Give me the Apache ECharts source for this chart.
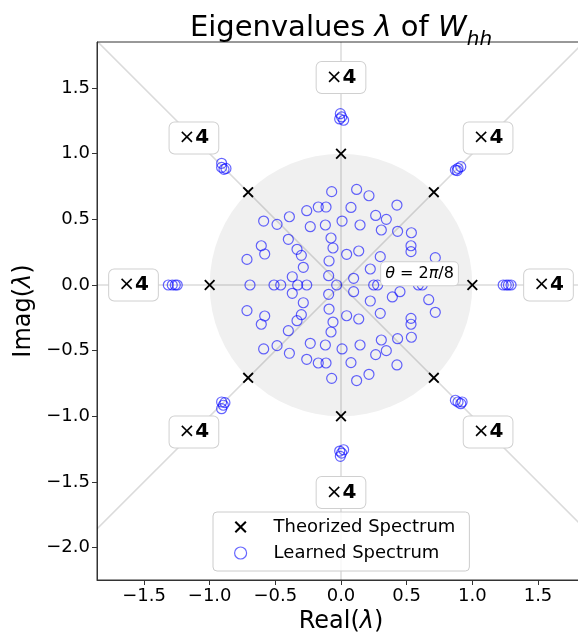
<!DOCTYPE html>
<html lang="en">
  <head>
    <meta charset="UTF-8" />
    <title>eigenvalues echarts</title>
    <script src="https://cdn.jsdelivr.net/npm/echarts@6/dist/echarts.min.js"></script>
    <style>
      html, body { margin: 0; padding: 0; background: #fff; }
      #main { width: 578px; height: 636px; }
    </style>
  </head>
  <body>
    <div id="main"></div>
    <script>
      // 理论谱：单位圆上的 8 个点
      const theorX = [1.0, 0.707, 0.0, -0.707, -1.0, -0.707, 0.0, 0.707];
      const theorY = [0.0, 0.707, 1.0, 0.707, 0.0, -0.707, -1.0, -0.707];

      // 学习到的谱 - 外圈 8 簇，每簇 4 个
      const outerX = [
        -0.005, -0.01, 0.02, 0.005,
        -0.005, -0.01, 0.02, 0.005,
        -1.315, -1.285, -1.262, -1.247,
        1.235, 1.258, 1.275, 1.295,
        -0.909, -0.909, -0.891, -0.876,
        0.871, 0.891, 0.912, 0.885,
        -0.909, -0.896, -0.909, -0.884,
        0.871, 0.891, 0.912, 0.922
      ];
      const outerY = [
        1.305, 1.265, 1.255, 1.28,
        -1.305, -1.265, -1.255, -1.28,
        0.0, 0.0, 0.0, 0.0,
        0.0, 0.0, 0.0, 0.0,
        0.927, 0.896, 0.881, 0.888,
        0.876, 0.889, 0.901, 0.872,
        -0.891, -0.916, -0.942, -0.896,
        -0.878, -0.891, -0.904, -0.891
      ];

      // 学习到的谱 - 圆内（上半平面）
      const upperX = [
        -0.071, 0.119, 0.213, 0.426, -0.173, -0.114, -0.261, 0.076, 0.264, 0.345,
        -0.393, -0.589, -0.487, -0.234, -0.119, 0.008, 0.145, 0.307, 0.431, 0.536,
        -0.401, -0.076, -0.607, -0.581, -0.335, -0.302, -0.061, 0.043, 0.135, 0.299,
        0.533, 0.533, 0.718, -0.716, -0.091, -0.287, 0.223, -0.371, -0.094, 0.096,
        0.391, 0.449, 0.668
      ];
      const upperY = [
        0.711, 0.728, 0.680, 0.609, 0.594, 0.594, 0.566, 0.591, 0.530, 0.500,
        0.520, 0.487, 0.462, 0.444, 0.457, 0.487, 0.457, 0.419, 0.409, 0.398,
        0.348, 0.358, 0.299, 0.236, 0.272, 0.226, 0.282, 0.234, 0.259, 0.216,
        0.299, 0.254, 0.208, 0.195, 0.183, 0.135, 0.122, 0.063, 0.071, 0.051,
        0.091, 0.051, 0.112
      ];
      // 下半平面（共轭）
      const lowerX = [
        -0.071, 0.119, 0.213, 0.426, -0.173, -0.114, -0.261, 0.076, 0.264, 0.345,
        -0.393, -0.589, -0.487, -0.234, -0.119, 0.008, 0.145, 0.307, 0.431, 0.536,
        -0.401, -0.076, -0.607, -0.581, -0.335, -0.302, -0.061, 0.043, 0.135, 0.299,
        0.533, 0.533, 0.718, -0.716, -0.091, -0.287, 0.223, -0.371, -0.094, 0.096,
        0.391, 0.449, 0.668
      ];
      const lowerY = [
        -0.711, -0.728, -0.680, -0.609, -0.594, -0.594, -0.566, -0.591, -0.530, -0.500,
        -0.520, -0.487, -0.462, -0.444, -0.457, -0.487, -0.457, -0.419, -0.409, -0.398,
        -0.348, -0.358, -0.299, -0.236, -0.272, -0.226, -0.282, -0.234, -0.259, -0.216,
        -0.299, -0.254, -0.208, -0.195, -0.183, -0.135, -0.122, -0.063, -0.071, -0.051,
        -0.091, -0.051, -0.112
      ];
      // 实轴上的点
      const realAxisX = [-0.693, -0.510, -0.459, -0.330, -0.261, -0.033, 0.249, 0.279, 0.589, 0.619];

      // "×4" 标注位置
      const tagX = [0.0, 1.12, 1.58, 1.12, 0.0, -1.12, -1.58, -1.12];
      const tagY = [1.58, 1.12, 0.0, -1.12, -1.58, -1.12, 0.0, 1.12];

      const xTicks = [-1.5, -1.0, -0.5, 0.0, 0.5, 1.0, 1.5];
      const yTicks = [-2.0, -1.5, -1.0, -0.5, 0.0, 0.5, 1.0, 1.5];

      const FONT = 'DejaVu Sans';
      const crossPath = 'path://M0,1.2L1.2,0L5,3.8L8.8,0L10,1.2L6.2,5L10,8.8L8.8,10L5,6.2L1.2,10L0,8.8L3.8,5Z';
      const blue = 'rgba(0,0,255,0.6)';

      const learned = [];
      outerX.forEach((x, i) => learned.push([x, outerY[i]]));
      upperX.forEach((x, i) => learned.push([x, upperY[i]]));
      lowerX.forEach((x, i) => learned.push([x, lowerY[i]]));
      realAxisX.forEach((x) => learned.push([x, 0]));

      const fmt = (v) => (v < 0 ? '\u2212' : '') + Math.abs(v).toFixed(1);

      const chart = echarts.init(document.getElementById('main'));
      const option = {
        backgroundColor: '#fff',
        animation: false,
        graphic: [
          {
            type: 'text',
            x: 341,
            y: 14,
            style: {
              text: '{a|Eigenvalues }{i|λ}{a| of }{i|W}{s|hh}',
              align: 'center',
              verticalAlign: 'top',
              rich: {
                a: { fontSize: 29, fontFamily: FONT, lineHeight: 34, verticalAlign: 'top', fill: '#000' },
                i: { fontSize: 29, fontFamily: FONT, fontStyle: 'italic', lineHeight: 34, verticalAlign: 'top', fill: '#000' },
                s: { fontSize: 20, fontFamily: FONT, fontStyle: 'italic', lineHeight: 20, verticalAlign: 'top', padding: [16, 0, 0, 0], fill: '#000' }
              }
            }
          }
        ],
        grid: {
          left: 97,
          right: -7,
          top: 42,
          bottom: 56,
          outerBoundsMode: 'none',
          containLabel: false,
          show: true,
          borderColor: '#333',
          borderWidth: 1,
          backgroundColor: '#fff'
        },
        xAxis: {
          type: 'value',
          min: -1.858,
          max: 1.858,
          name: '{a|Real(}{i|λ}{a|)}',
          nameLocation: 'middle',
          nameGap: 26,
          nameTextStyle: {
            rich: {
              a: { fontSize: 24, fontFamily: FONT, color: '#000' },
              i: { fontSize: 24, fontFamily: FONT, fontStyle: 'italic', color: '#000' }
            }
          },
          axisLine: { onZero: false, lineStyle: { color: '#333', width: 1 } },
          axisTick: { length: 5, lineStyle: { color: '#333' }, customValues: xTicks },
          axisLabel: { fontSize: 18, fontFamily: FONT, color: '#000', margin: 7, customValues: xTicks, formatter: fmt },
          splitLine: { show: false }
        },
        yAxis: {
          type: 'value',
          min: -2.247,
          max: 1.851,
          name: '{a|Imag(}{i|λ}{a|)}',
          nameLocation: 'middle',
          nameGap: 56,
          nameTextStyle: {
            rich: {
              a: { fontSize: 24, fontFamily: FONT, color: '#000' },
              i: { fontSize: 24, fontFamily: FONT, fontStyle: 'italic', color: '#000' }
            }
          },
          axisLine: { onZero: false, lineStyle: { color: '#333', width: 1 } },
          axisTick: { length: 5, lineStyle: { color: '#333' }, customValues: yTicks },
          axisLabel: { fontSize: 18, fontFamily: FONT, color: '#000', margin: 7, customValues: yTicks, formatter: fmt },
          splitLine: { show: false }
        },
        legend: {
          orient: 'vertical',
          left: 213,
          top: 512,
          padding: [6, 14, 9, 21],
          itemGap: 8,
          itemWidth: 12,
          itemHeight: 12,
          backgroundColor: 'rgba(255,255,255,0.8)',
          borderColor: '#cccccc',
          borderWidth: 1,
          borderRadius: 4,
          textStyle: { fontSize: 18, fontFamily: FONT, color: '#000', padding: [0, 0, 0, 22] },
          data: [
            { name: 'Theorized Spectrum', icon: crossPath, itemStyle: { color: '#000' } },
            { name: 'Learned Spectrum', icon: 'circle', itemStyle: { color: 'rgba(0,0,0,0)', borderColor: blue, borderWidth: 1.2 } }
          ]
        },
        series: [
          {
            // 单位圆（灰色区域）
            type: 'custom',
            z: 1,
            silent: true,
            data: [[0, 0, 1]],
            renderItem: function (params, api) {
              const c = api.coord([api.value(0), api.value(1)]);
              const r = api.size([api.value(2), 0])[0];
              return { type: 'circle', shape: { cx: c[0], cy: c[1], r: r }, style: { fill: '#f0f0f0' } };
            }
          },
          {
            // 方向线
            type: 'custom',
            z: 2,
            silent: true,
            clip: true,
            data: [[-3, 0, 3, 0], [0, -3, 0, 3], [-3, -3, 3, 3], [-3, 3, 3, -3]],
            renderItem: function (params, api) {
              const p1 = api.coord([api.value(0), api.value(1)]);
              const p2 = api.coord([api.value(2), api.value(3)]);
              return {
                type: 'line',
                shape: { x1: p1[0], y1: p1[1], x2: p2[0], y2: p2[1] },
                style: { stroke: 'rgba(0,0,0,0.14)', lineWidth: 1.5 }
              };
            }
          },
          {
            name: 'Theorized Spectrum',
            type: 'scatter',
            z: 3,
            symbol: crossPath,
            symbolSize: 11,
            itemStyle: { color: '#000', opacity: 1 },
            data: theorX.map((x, i) => [x, theorY[i]])
          },
          {
            name: 'Learned Spectrum',
            type: 'scatter',
            z: 4,
            symbol: 'circle',
            symbolSize: 10,
            itemStyle: { color: 'rgba(0,0,0,0)', borderColor: blue, borderWidth: 1.2, opacity: 1 },
            data: learned
          },
          {
            // ×4 标注
            type: 'scatter',
            z: 5,
            silent: true,
            symbolSize: 1,
            itemStyle: { color: 'rgba(0,0,0,0)' },
            data: tagX.map((x, i) => [x, tagY[i]]),
            label: {
              show: true,
              position: 'inside',
              formatter: '{x|×}{b|4}',
              color: '#000',
              opacity: 1,
              backgroundColor: '#fff',
              borderColor: '#d0d0d0',
              borderWidth: 1,
              borderRadius: 5,
              padding: [5, 9, 5, 9],
              rich: {
                x: { fontSize: 20, fontFamily: FONT, color: '#000', lineHeight: 21 },
                b: { fontSize: 20, fontFamily: FONT, fontWeight: 'bold', color: '#000', lineHeight: 21 }
              }
            }
          },
          {
            // θ 标注
            type: 'scatter',
            z: 5,
            silent: true,
            symbolSize: 1,
            itemStyle: { color: 'rgba(0,0,0,0)' },
            data: [[0.598, 0.086]],
            label: {
              show: true,
              position: 'inside',
              formatter: '{i|θ}{n| = 2}{i|π}{n|/8}',
              color: '#000',
              opacity: 1,
              backgroundColor: '#fff',
              borderColor: '#d0d0d0',
              borderWidth: 1,
              borderRadius: 4,
              padding: [2, 4, 2, 4],
              rich: {
                i: { fontSize: 16, fontFamily: FONT, fontStyle: 'italic', color: '#000', lineHeight: 19 },
                n: { fontSize: 16, fontFamily: FONT, color: '#000', lineHeight: 19 }
              }
            }
          }
        ]
      };
      chart.setOption(option);
    </script>
  </body>
</html>
